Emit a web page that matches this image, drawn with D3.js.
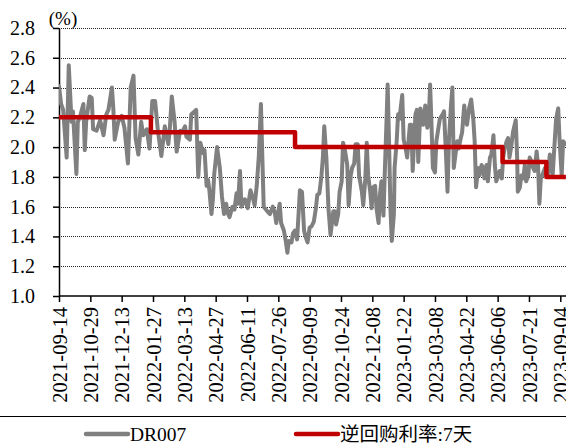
<!DOCTYPE html>
<html>
<head>
<meta charset="utf-8">
<script src="https://cdn.jsdelivr.net/npm/d3@7/dist/d3.min.js"></script>
<style>
  html, body { margin: 0; padding: 0; background: #fff; }
  svg { display: block; }
  text { font-family: "Liberation Serif", "Times New Roman", "Noto Sans CJK SC", serif; fill: #000; }
</style>
</head>
<body>
<svg id="chart" width="566" height="444"></svg>
<script>
// DR007 daily observations (date, %)
const drDates = [
  "2021-09-14","2021-09-17","2021-09-20","2021-09-25","2021-09-28","2021-10-02","2021-10-04","2021-10-09","2021-10-11","2021-10-14",
  "2021-10-19","2021-10-21","2021-10-23","2021-10-28","2021-10-31","2021-11-02","2021-11-07","2021-11-12","2021-11-17","2021-11-21",
  "2021-11-24","2021-11-29","2021-12-01","2021-12-03","2021-12-08","2021-12-13","2021-12-17","2021-12-22","2021-12-26","2021-12-30",
  "2022-01-02","2022-01-06","2022-01-10","2022-01-13","2022-01-18","2022-01-22","2022-01-26","2022-01-30","2022-02-03","2022-02-08",
  "2022-02-13","2022-02-18","2022-02-20","2022-02-23","2022-02-27","2022-03-02","2022-03-07","2022-03-10","2022-03-14","2022-03-16",
  "2022-03-21","2022-03-23","2022-03-28","2022-03-30","2022-04-02","2022-04-05","2022-04-09","2022-04-11","2022-04-14","2022-04-16",
  "2022-04-18","2022-04-21","2022-04-23","2022-04-25","2022-04-29","2022-05-03","2022-05-06","2022-05-09","2022-05-12","2022-05-15",
  "2022-05-17","2022-05-21","2022-05-24","2022-05-27","2022-05-29","2022-06-01","2022-06-03","2022-06-08","2022-06-12","2022-06-16",
  "2022-06-20","2022-06-22","2022-06-25","2022-06-28","2022-07-01","2022-07-03","2022-07-05","2022-07-10","2022-07-14","2022-07-18",
  "2022-07-21","2022-07-23","2022-07-28","2022-07-30","2022-08-03","2022-08-06","2022-08-08","2022-08-10","2022-08-14","2022-08-16",
  "2022-08-19","2022-08-22","2022-08-26","2022-08-29","2022-09-01","2022-09-03","2022-09-06","2022-09-09","2022-09-12","2022-09-15",
  "2022-09-18","2022-09-20","2022-09-23","2022-09-26","2022-09-28","2022-09-30","2022-10-03","2022-10-06","2022-10-09","2022-10-13",
  "2022-10-15","2022-10-17","2022-10-20","2022-10-22","2022-10-25","2022-10-27","2022-10-30","2022-11-02","2022-11-04","2022-11-07",
  "2022-11-09","2022-11-12","2022-11-14","2022-11-17","2022-11-19","2022-11-23","2022-11-25","2022-11-28","2022-11-30","2022-12-02",
  "2022-12-05","2022-12-07","2022-12-09","2022-12-12","2022-12-14","2022-12-17","2022-12-19","2022-12-21","2022-12-24","2022-12-26",
  "2022-12-29","2022-12-30","2023-01-01","2023-01-03","2023-01-05","2023-01-08","2023-01-09","2023-01-12","2023-01-14","2023-01-16",
  "2023-01-20","2023-01-22","2023-01-25","2023-01-27","2023-01-31","2023-02-02","2023-02-04","2023-02-08","2023-02-10","2023-02-12",
  "2023-02-15","2023-02-19","2023-02-22","2023-02-25","2023-02-27","2023-03-01","2023-03-03","2023-03-05","2023-03-08","2023-03-10",
  "2023-03-13","2023-03-15","2023-03-19","2023-03-21","2023-03-24","2023-03-26","2023-03-28","2023-03-31","2023-04-02","2023-04-04",
  "2023-04-07","2023-04-09","2023-04-11","2023-04-14","2023-04-16","2023-04-19","2023-04-21","2023-04-23","2023-04-26","2023-04-29",
  "2023-05-02","2023-05-04","2023-05-06","2023-05-09","2023-05-11","2023-05-14","2023-05-16","2023-05-18","2023-05-21","2023-05-23",
  "2023-05-26","2023-05-28","2023-05-31","2023-06-02","2023-06-04","2023-06-07","2023-06-09","2023-06-12","2023-06-14","2023-06-16",
  "2023-06-19","2023-06-21","2023-06-23","2023-06-26","2023-06-28","2023-07-02","2023-07-04","2023-07-05","2023-07-08","2023-07-10",
  "2023-07-13","2023-07-15","2023-07-17","2023-07-20","2023-07-22","2023-07-25","2023-07-27","2023-07-29","2023-08-01","2023-08-03",
  "2023-08-05","2023-08-07","2023-08-09","2023-08-13","2023-08-15","2023-08-17","2023-08-20","2023-08-22","2023-08-24","2023-08-27",
  "2023-08-29","2023-09-01","2023-09-03","2023-09-06","2023-09-08","2023-09-11"
];
const drValues = [
  2.41,2.29,2.25,1.93,2.55,2.17,2.24,1.82,2.17,2.20,
  2.29,1.98,2.17,2.34,2.33,2.12,2.11,2.18,2.08,2.22,
  2.25,2.40,2.26,2.05,2.17,2.21,2.13,1.89,2.40,2.48,
  2.06,1.95,2.17,2.08,2.12,1.99,2.31,2.31,2.11,1.94,
  2.14,2.02,2.11,2.34,2.17,1.97,2.11,2.10,2.14,2.07,
  2.05,2.22,2.24,2.25,1.80,2.03,1.96,1.98,1.74,1.78,
  1.71,1.55,1.65,1.82,2.00,1.86,1.67,1.55,1.62,1.55,
  1.53,1.60,1.58,1.69,1.62,1.84,1.60,1.65,1.59,1.71,
  1.65,1.61,1.74,1.94,2.29,1.94,1.60,1.57,1.55,1.60,
  1.56,1.49,1.62,1.49,1.44,1.36,1.29,1.37,1.36,1.42,
  1.44,1.38,1.71,1.70,1.44,1.40,1.36,1.46,1.47,1.50,
  1.59,1.68,1.69,1.81,1.93,2.14,1.93,1.59,1.41,1.57,
  1.57,1.48,1.55,1.70,1.77,2.03,1.97,1.88,1.61,1.81,
  1.86,1.89,2.02,2.02,1.81,1.70,1.61,1.79,2.03,1.81,
  1.70,1.59,1.73,1.74,1.59,1.49,1.68,1.77,1.54,1.84,
  2.26,2.42,2.04,1.59,1.37,1.55,1.86,2.04,2.22,2.19,
  2.35,2.05,1.99,1.93,2.15,2.15,1.84,2.22,2.25,1.90,
  2.26,2.15,2.28,2.13,2.17,2.42,2.15,1.86,1.83,2.04,
  2.13,2.19,2.22,2.24,1.93,1.70,2.04,2.28,2.40,1.86,
  1.97,2.04,1.99,2.06,2.10,2.28,2.19,2.15,2.26,2.32,
  2.19,2.04,1.73,1.86,1.81,1.88,1.86,1.79,1.88,1.77,
  1.93,1.95,2.08,1.88,1.77,1.81,1.84,1.79,1.93,1.99,
  2.04,2.06,1.93,2.02,2.10,2.18,1.93,1.70,1.73,1.81,
  1.79,1.88,1.77,1.81,1.93,1.90,1.86,1.84,1.97,1.88,
  1.62,1.79,1.81,1.86,1.86,1.81,1.95,1.86,1.81,2.04,
  2.19,2.26,2.04,1.81,2.04,2.02
];

// 7-day reverse repo rate: effective dates and levels (%)
const repoDates = ["2021-09-14","2022-01-24","2022-08-19","2023-06-13","2023-08-15","2023-09-12"];
const repoValues = [2.2, 2.1, 2.0, 1.9, 1.8, 1.8];

// Axis ticks
const xTickLabels = [
  "2021-09-14","2021-10-29","2021-12-13","2022-01-27","2022-03-13","2022-04-27","2022-06-11","2022-07-26","2022-09-09",
  "2022-10-24","2022-12-08","2023-01-22","2023-03-08","2023-04-22","2023-06-06","2023-07-21","2023-09-04"
];
const yTickValues = [1.0, 1.2, 1.4, 1.6, 1.8, 2.0, 2.2, 2.4, 2.6, 2.8];

const seriesNames = ["DR007", "逆回购利率:7天"];
const seriesColors = ["#808080", "#C00000"];

const W = 566, H = 444;
const plot = { left: 59, right: W, top: 28, bottom: 296 };
const parse = d3.timeParse("%Y-%m-%d");

const svg = d3.select("#chart");

const x = d3.scaleTime()
  .domain([parse(xTickLabels[0]), parse(xTickLabels[xTickLabels.length - 1])])
  .range([plot.left, 560.3]);
const y = d3.scaleLinear().domain([1.0, 2.8]).range([plot.bottom, plot.top]);

svg.append("defs").append("clipPath").attr("id", "plotclip")
  .append("rect").attr("x", plot.left).attr("y", 0).attr("width", W - plot.left).attr("height", plot.bottom);

// dotted horizontal gridlines
svg.append("g")
  .selectAll("line")
  .data(yTickValues.filter(v => v > 1.0))
  .join("line")
  .attr("x1", plot.left).attr("x2", plot.right)
  .attr("y1", d => Math.round(y(d)) + 0.5).attr("y2", d => Math.round(y(d)) + 0.5)
  .attr("stroke", "#222").attr("stroke-width", 1).attr("stroke-dasharray", "1,1");

// y axis
const yAxis = svg.append("g")
  .attr("transform", `translate(${plot.left},0)`)
  .call(d3.axisLeft(y).tickValues(yTickValues).tickFormat(d3.format(".1f")).tickSize(6).tickSizeOuter(0).tickPadding(18));
yAxis.select(".domain").attr("stroke", "#000").attr("stroke-width", 1.5);
yAxis.selectAll(".tick line").attr("stroke", "#000").attr("stroke-width", 1.5);
yAxis.selectAll(".tick text").style("font-size", "20px").attr("fill", "#000");

// x axis
const xAxis = svg.append("g")
  .attr("transform", `translate(0,${plot.bottom})`)
  .call(d3.axisBottom(x).tickValues(xTickLabels.map(parse)).tickFormat(d3.timeFormat("%Y-%m-%d")).tickSize(6).tickSizeOuter(0));
xAxis.select(".domain").remove();
xAxis.append("line").attr("x1", plot.left).attr("x2", plot.right).attr("y1", 0).attr("y2", 0)
  .attr("stroke", "#000").attr("stroke-width", 1.5);
xAxis.selectAll(".tick line").attr("stroke", "#000").attr("stroke-width", 1.5);
xAxis.selectAll(".tick text")
  .style("font-size", "20.5px")
  .attr("fill", "#000")
  .attr("text-anchor", "end")
  .attr("transform", "rotate(-90)")
  .attr("x", -11)
  .attr("y", 0)
  .attr("dy", "0.35em");

// unit label
svg.append("text").attr("x", 63).attr("y", 25).attr("text-anchor", "middle")
  .style("font-size", "19px").text("(%)");

const g = svg.append("g").attr("clip-path", "url(#plotclip)");

const drData = drDates.map((d, i) => ({ date: parse(d), value: drValues[i] }));
const repoData = repoDates.map((d, i) => ({ date: parse(d), value: repoValues[i] }));

g.append("path")
  .datum(drData)
  .attr("fill", "none")
  .attr("stroke", seriesColors[0])
  .attr("stroke-width", 4)
  .attr("stroke-linejoin", "round")
  .attr("stroke-linecap", "round")
  .attr("d", d3.line().x(d => x(d.date)).y(d => y(d.value)));

g.append("path")
  .datum(repoData)
  .attr("fill", "none")
  .attr("stroke", seriesColors[1])
  .attr("stroke-width", 4.5)
  .attr("stroke-linejoin", "round")
  .attr("d", d3.line().curve(d3.curveStepAfter).x(d => x(d.date)).y(d => y(d.value)));

// legend
svg.append("line").attr("x1", 0).attr("x2", W).attr("y1", 416.5).attr("y2", 416.5)
  .attr("stroke", "#000").attr("stroke-width", 1);

const legendItems = [
  { name: seriesNames[0], color: seriesColors[0], x0: 86 },
  { name: seriesNames[1], color: seriesColors[1], x0: 296 }
];
const lg = svg.append("g").selectAll("g").data(legendItems).join("g")
  .attr("transform", d => `translate(${d.x0},434)`);
lg.append("line").attr("x1", 0).attr("x2", 42).attr("y1", 0).attr("y2", 0)
  .attr("stroke", d => d.color).attr("stroke-width", 4.5).attr("stroke-linecap", "round");
lg.append("text").attr("x", 44).attr("y", 0).attr("dy", "0.35em")
  .style("font-size", "19.5px").text(d => d.name);
</script>
</body>
</html>
